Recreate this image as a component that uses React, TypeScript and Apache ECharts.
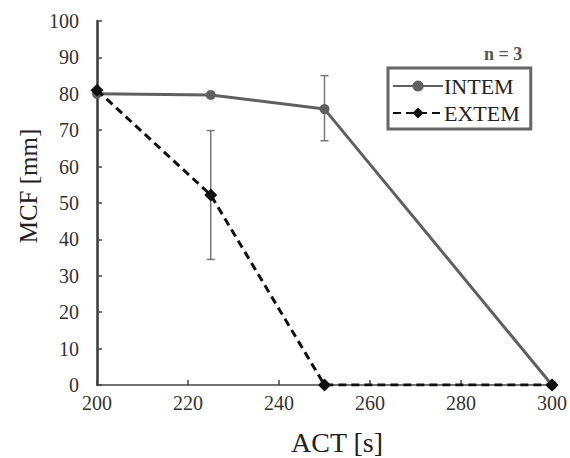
import React, { useEffect, useRef } from "react";
import * as echarts from "echarts";

const xValues = [200, 225, 250, 300];
const intemValues = [80, 79.7, 75.8, 0];
const extemValues = [81, 52.2, 0, 0];
// error bars: [x, low, high]
const intemErrors = [[250, 67.1, 85]];
const extemErrors = [[225, 34.5, 69.9]];

const FONT = "Liberation Serif";

function errorRender(params: any, api: any) {
  const x = api.value(0);
  const lo = api.coord([x, api.value(1)]);
  const hi = api.coord([x, api.value(2)]);
  const cap = 4;
  const style = { stroke: "#777", lineWidth: 1.5 };
  return {
    type: "group",
    children: [
      { type: "line", shape: { x1: lo[0], y1: lo[1], x2: hi[0], y2: hi[1] }, style },
      { type: "line", shape: { x1: lo[0] - cap, y1: lo[1], x2: lo[0] + cap, y2: lo[1] }, style },
      { type: "line", shape: { x1: hi[0] - cap, y1: hi[1], x2: hi[0] + cap, y2: hi[1] }, style },
    ],
  };
}

const labelStyle = { fontFamily: FONT, fontSize: 20, color: "#333" };

export default function App() {
  const ref = useRef<HTMLDivElement>(null);
  useEffect(() => {
    const chart = echarts.init(ref.current!, undefined, { renderer: "svg" });
    chart.setOption({
      animation: false,
      textStyle: { fontFamily: FONT, fontSize: 20, color: "#333" },
      grid: { left: 97, right: 18, top: 21, bottom: 73, containLabel: false },
      xAxis: [
        {
          type: "value",
          min: 200,
          max: 300,
          interval: 20,
          axisLine: { show: true, lineStyle: { color: "#444", width: 1.5 } },
          axisTick: { show: true, inside: true, length: 5, lineStyle: { color: "#444", width: 1.5 } },
          axisLabel: { show: true, ...labelStyle, margin: 8 },
          splitLine: { show: false },
        },
      ],
      yAxis: [
        {
          type: "value",
          min: 0,
          max: 100,
          interval: 10,
          axisLine: { show: true, lineStyle: { color: "#3a3a3a", width: 2.5 } },
          axisTick: { show: true, inside: true, length: 5, lineStyle: { color: "#444", width: 1.5 } },
          axisLabel: { show: true, ...labelStyle, margin: 18 },
          splitLine: { show: false },
        },
      ],
      legend: {
        orient: "vertical",
        left: 388,
        top: 68,
        borderColor: "#666",
        borderWidth: 3,
        padding: [7, 11, 5, 4],
        itemGap: 5,
        itemWidth: 50,
        itemHeight: 14,
        textStyle: { fontFamily: FONT, fontSize: 22, color: "#222", padding: [0, 0, 0, -4] },
        data: ["INTEM", "EXTEM"],
      },
      graphic: [
        {
          type: "text",
          left: 484,
          top: 45,
          style: { text: "n = 3", font: `bold 18px ${FONT}`, fill: "#555" },
        },
        {
          type: "text",
          x: 337,
          y: 442,
          style: { text: "ACT [s]", font: `28px ${FONT}`, fill: "#222", align: "center", verticalAlign: "middle" },
        },
        {
          type: "text",
          x: 28,
          y: 186,
          rotation: Math.PI / 2,
          style: { text: "MCF [mm]", font: `25px ${FONT}`, fill: "#222", align: "center", verticalAlign: "middle" },
        },
      ],
      series: [
        {
          name: "INTEM",
          type: "line",
          data: xValues.map((x, i) => [x, intemValues[i]]),
          symbol: "circle",
          symbolSize: 10,
          lineStyle: { color: "#606060", width: 3 },
          itemStyle: { color: "#606060" },
          z: 3,
        },
        {
          name: "EXTEM",
          type: "line",
          data: xValues.map((x, i) => [x, extemValues[i]]),
          symbol: "diamond",
          symbolSize: 13,
          lineStyle: { color: "#111", width: 3, type: [8, 5] },
          itemStyle: { color: "#111" },
          z: 4,
        },
        {
          type: "custom",
          renderItem: errorRender,
          data: intemErrors,
          z: 2,
        },
        {
          type: "custom",
          renderItem: errorRender,
          data: extemErrors,
          z: 2,
        },
      ],
    });
    return () => chart.dispose();
  }, []);
  return <div ref={ref} style={{ width: 570, height: 458, position: "absolute", left: 0, top: 0 }} />;
}
